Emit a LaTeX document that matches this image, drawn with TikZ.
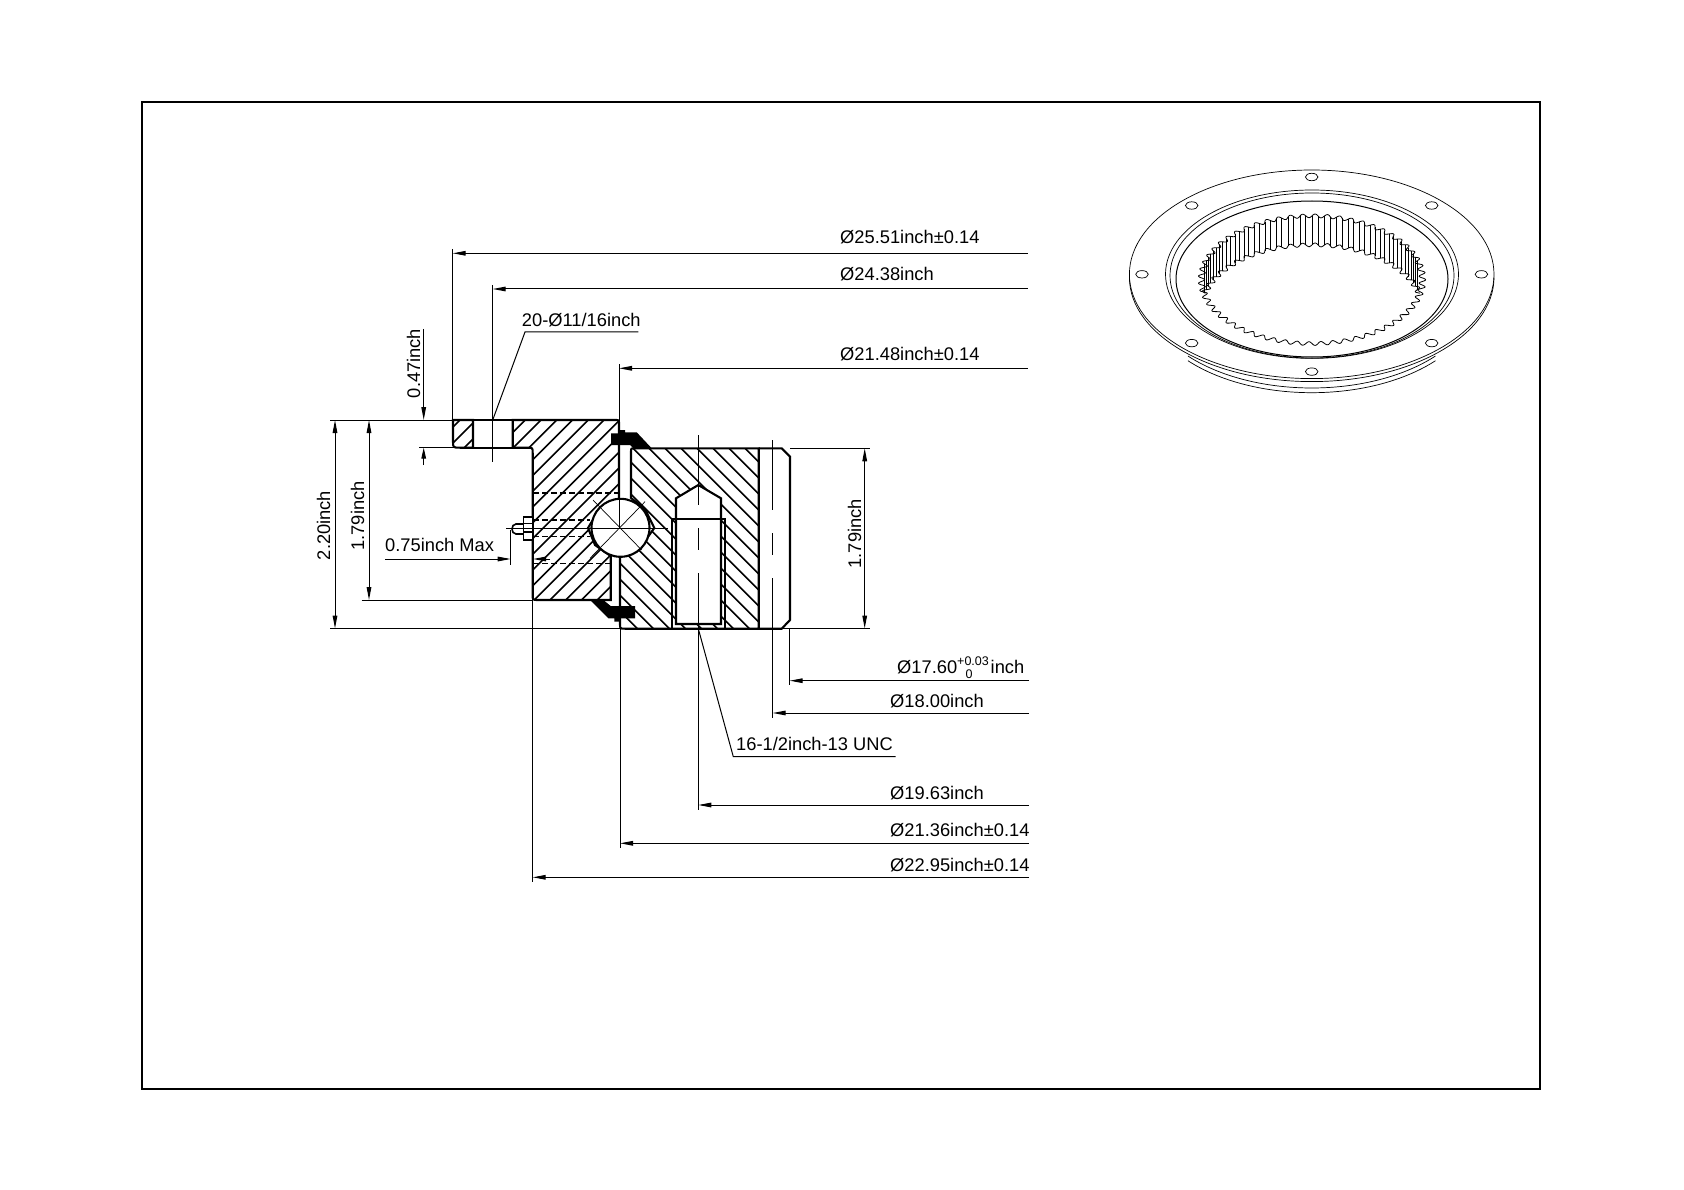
\documentclass[tikz,border=0pt]{standalone}
\usepackage{fontspec}
\setmainfont{Liberation Sans}
\usetikzlibrary{arrows.meta}
\tikzset{
  thin line/.style={line width=1pt,black},
  thick line/.style={line width=2.1pt,black},
  hatchline/.style={line width=1.6pt,black},
  dimarrow/.style={thin line,-{Triangle[length=13pt,width=4.6pt]}},
  dimboth/.style={thin line,{Triangle[length=13pt,width=4.6pt]}-{Triangle[length=13pt,width=4.6pt]}},
  label/.style={inner sep=0pt,anchor=base west,font=\fontsize{18.3}{20}\selectfont},
  vlabel/.style={inner sep=0pt,anchor=base,rotate=90,font=\fontsize{18.3}{20}\selectfont},
  centre line/.style={line width=1pt,black,dash pattern=on 70pt off 23pt on 22pt off 23pt},
  hidden/.style={line width=1.3pt,black,dash pattern=on 6pt off 3pt},
  iso/.style={line width=0.7pt,black},
}
\def\outerA{(512.7,420)--(615,420)..controls(619,420)..(619,424)--(619,499)--(597,513)--(588,528)--(595,545)--(610.7,556)--(610.7,600)--(538,600)..controls(532.7,600)..(532.7,595)--(532.7,453)..controls(532.7,447.7)..(527,447.7)--(512.7,447.7)--cycle}
\def\outerB{(473,420)--(453,420)--(453,441)..controls(453,447.7)..(460,447.7)--(473,447.7)--cycle}
\def\innerR{(635,448.3)--(758.7,448.3)--(758.7,628.7)--(625,628.7)..controls(620,628.7)..(620,624)--(620,556)--(640,548)--(654.3,528)--(645,509)--(631,498)--(631,452)..controls(631,448.3)..(635,448.3)--cycle}
\begin{document}
\begin{tikzpicture}[x=1pt,y=-1pt]
\useasboundingbox (0,0) rectangle (1684,1190);
\fill[white] (0,0) rectangle (1684,1190);
\draw[line width=2pt] (141.5,102) rectangle (1540,1089);

% hatching
\begin{scope}
  \clip \outerA;
  \foreach \k in {-6,...,17}{
    \pgfmathsetmacro\c{961+15.75*\k}
    \draw[hatchline] (\c-400,400)--(\c-620,620);
  }
\end{scope}
\begin{scope}
  \clip \outerB;
  \foreach \c in {880,896,912}{
    \draw[hatchline] (\c-400,400)--(\c-470,470);
  }
\end{scope}
\begin{scope}
  \clip \innerR;
  \foreach \k in {-15,...,6}{
    \pgfmathsetmacro\c{216.7+16*\k}
    \draw[hatchline] (\c+440,440)--(\c+640,640);
  }
\end{scope}

% drilled hole
\fill[white] (676,498.3)--(698.3,485)--(721,498.3)--(721,624)--(676,624)--cycle;

% outlines
\draw[thick line] \outerA;
\draw[thick line] \outerB;
\draw[thick line] (473,447.7)--(512.7,447.7);
\draw[thick line] (473,420)--(512.7,420);
\draw[thick line] \innerR;
\draw[thick line] (758.7,448.3)--(781.7,448.3)--(790,456.7)--(790,620)--(781.7,628.7)--(758.7,628.7);
\draw[thick line] (676,498.3)--(698.3,485)--(721,498.3)--(721,624)--(676,624)--cycle;
\draw[thick line] (672.3,628.7)--(672.3,519)--(725,519)--(725,628.7);

% seals
\fill[black] (611,433.3)--(618.3,433.3)--(619.3,430)--(625,430)--(625,432.3)--(636.7,432.3)--(651.7,448.3)--(633.3,448.3)--(630,445)--(611,445)--cycle;
\fill[black] (590,600)--(603.3,600)--(610.7,606)--(635,606)--(635,618.3)--(620,618.3)--(619.3,621.7)--(614.3,621.7)--(614.3,618.3)--(608.3,618.3)--cycle;

% ball
\coordinate (ballc) at (620.5,527.8);
\draw[thick line,fill=white] (ballc) circle[radius=29pt];
\draw[line width=0.7pt] (593,500)--(641.6,550);
\draw[line width=0.7pt] (645,501.7)--(590,558.3);

% hidden lines
\draw[hidden] (533,493)--(619,493);
\draw[hidden] (533,520)--(590,520);
\draw[hidden] (533,536.3)--(590,536.3);
\draw[hidden] (533,563.3)--(610,563.3);

% nipple
\draw[line width=1.6pt,fill=white] (523.3,516.7) rectangle (532.7,540);
\draw[line width=1.3pt] (523.3,523.3)--(532.7,523.3) (523.3,532)--(532.7,532);
\draw[line width=1.6pt] (523.3,524)--(516,524)..controls(510.7,524)and(510.7,534)..(516,534)--(523.3,534);

% centre lines
\coordinate (cbL) at (506,528.3);
\coordinate (cbR) at (668,528.3);
\draw[thin line] (cbL)--(cbR);
\coordinate (holeT) at (698.3,435);
\coordinate (holeB) at (698.3,628.7);
\draw[centre line] (holeT)--(holeB);
\coordinate (boreT) at (772.7,440);
\coordinate (boreB) at (772.7,628.7);
\draw[centre line] (boreT)--(boreB);

% extension lines
\coordinate (eTopL) at (330,420);   \coordinate (eTopR) at (453,420);
\coordinate (eMidL) at (361.7,600); \coordinate (eMidR) at (533,600);
\coordinate (eBotL) at (330,628.5); \coordinate (eBotR) at (870,628.5);
\coordinate (eRTL) at (790,448.3);  \coordinate (eRTR) at (870,448.3);
\coordinate (eFl) at (419,447.7);   \coordinate (eFr) at (453,447.7);
\draw[thin line] (eTopL)--(eTopR);
\draw[thin line] (eMidL)--(eMidR);
\draw[thin line] (eBotL)--(eBotR);
\draw[thin line] (eRTL)--(eRTR);
\draw[thin line] (eFl)--(eFr);

% top diameters
\coordinate (a1s) at (1027.7,253.3); \coordinate (a1e) at (452.7,253.3); \coordinate (a1t) at (452.7,249); \coordinate (a1b) at (452.7,420);
\coordinate (a2s) at (1027.7,289);   \coordinate (a2e) at (492.7,289);   \coordinate (a2t) at (492.7,285); \coordinate (a2b) at (492.7,461.7);
\coordinate (a3s) at (1027.7,368.3); \coordinate (a3e) at (619,368.3);   \coordinate (a3t) at (619,364);   \coordinate (a3b) at (619,528);
\draw[dimarrow] (a1s)--(a1e); \draw[thin line] (a1t)--(a1b);
\draw[dimarrow] (a2s)--(a2e); \draw[thin line] (a2t)--(a2b);
\draw[dimarrow] (a3s)--(a3e); \draw[thin line] (a3t)--(a3b);
\node[label] (t1) at (840,244) {Ø25.51inch±0.14};
\node[label] (t2) at (840,280.5) {Ø24.38inch};
\node[label] (t3) at (840,360) {Ø21.48inch±0.14};

% 20 holes leader
\coordinate (l1a) at (492.7,420); \coordinate (l1b) at (525,332); \coordinate (l1c) at (638.3,332);
\draw[thin line] (l1a)--(l1b)--(l1c);
\node[label] (t4) at (521.7,326.5) {20-Ø11/16inch};

% 0.47
\coordinate (q1) at (423.7,329); \coordinate (q2) at (423.7,420); \coordinate (q3) at (423.7,465); \coordinate (q4) at (423.7,447.7);
\draw[dimarrow] (q1)--(q2);
\draw[thin line,-{Triangle[length=11pt,width=4.6pt]}] (q3)--(q4);
\node[vlabel] (t5) at (420,363.5) {0.47inch};

% 2.20, 1.79 left
\coordinate (r1) at (335,420); \coordinate (r2) at (335,628.5);
\draw[dimboth] (r1)--(r2);
\node[vlabel] (t6) at (330,525.5) {2.20inch};
\coordinate (r3) at (369,420); \coordinate (r4) at (369,600);
\draw[dimboth] (r3)--(r4);
\node[vlabel] (t7) at (364,516) {1.79inch};

% 0.75
\coordinate (v1) at (385,559); \coordinate (v2) at (510.7,559); \coordinate (v3) at (550,559); \coordinate (v4) at (533,559);
\coordinate (v5) at (510.7,530); \coordinate (v6) at (510.7,565);
\draw[dimarrow] (v1)--(v2);
\draw[thin line,-{Triangle[length=13pt,width=4.6pt]}] (v3)--(v4);
\draw[thin line] (v5)--(v6);
\node[label] (t8) at (385,551.7) {0.75inch Max};

% 1.79 right
\coordinate (w1) at (864.7,448.3); \coordinate (w2) at (864.7,628.5);
\draw[dimboth] (w1)--(w2);
\node[vlabel] (t9) at (861,533.7) {1.79inch};

% bottom diameters
\coordinate (b1s) at (1029,680.7); \coordinate (b1e) at (789.7,680.7); \coordinate (b1t) at (789.7,628.7); \coordinate (b1b) at (789.7,685);
\coordinate (b2s) at (1029,713);   \coordinate (b2e) at (772.7,713);   \coordinate (b2t) at (772.7,628.7); \coordinate (b2b) at (772.7,718);
\coordinate (b3s) at (1029,805);   \coordinate (b3e) at (698.3,805);   \coordinate (b3t) at (698.3,628.7); \coordinate (b3b) at (698.3,810);
\coordinate (b4s) at (1029,843.3); \coordinate (b4e) at (620,843.3);   \coordinate (b4t) at (620,620);     \coordinate (b4b) at (620,848);
\coordinate (b5s) at (1029,877.3); \coordinate (b5e) at (532.7,877.3); \coordinate (b5t) at (532.7,595);   \coordinate (b5b) at (532.7,882);
\draw[dimarrow] (b1s)--(b1e); \draw[thin line] (b1t)--(b1b);
\draw[dimarrow] (b2s)--(b2e); \draw[thin line] (b2t)--(b2b);
\draw[dimarrow] (b3s)--(b3e); \draw[thin line] (b3t)--(b3b);
\draw[dimarrow] (b4s)--(b4e); \draw[thin line] (b4t)--(b4b);
\draw[dimarrow] (b5s)--(b5e); \draw[thin line] (b5t)--(b5b);
\node[label] (t10) at (897,673) {Ø17.60\rlap{\raisebox{8pt}{\fontsize{12.5}{12}\selectfont +0.03}}\rlap{\hspace{8.5pt}\raisebox{-5pt}{\fontsize{12.5}{12}\selectfont 0}}\hspace{33.5pt}inch};
\node[label] (t11) at (890,707) {Ø18.00inch};
\node[label] (t12) at (890,799) {Ø19.63inch};
\node[label] (t13) at (890,836.7) {Ø21.36inch±0.14};
\node[label] (t14) at (890,871) {Ø22.95inch±0.14};

% thread leader
\coordinate (c1) at (698.3,628.7); \coordinate (c2) at (733.3,756.7); \coordinate (c3) at (895.7,756.7);
\draw[thin line] (c1)--(c2)--(c3);
\node[label] (t15) at (736,750.7) {16-1/2inch-13 UNC};

% isometric view
\begin{scope}[iso]
  \coordinate (isoc) at (1311.7,274.3);
  \draw (isoc) ellipse[x radius=182.3pt,y radius=104.3pt];
  \draw (1129.4,277.3) arc[start angle=180,end angle=360,x radius=182.3pt,y radius=104.3pt];
  \foreach \yc in {298.3,293.6}{
    \draw (1311.7,\yc) ++(221.4:165pt and 94.4pt) arc[start angle=221.4,end angle=318.6,x radius=165pt,y radius=94.4pt];
  }
  \foreach \a in {0,45,...,315}{
    \draw (isoc) ++(\a:169.7pt and 97.3pt) ellipse[x radius=6.3pt,y radius=3.7pt];
  }
  \draw (1312,274.2) ellipse[x radius=146.5pt,y radius=84.2pt];
  \draw (1312,275.5) ellipse[x radius=142pt,y radius=82.5pt];
  \draw[line width=1pt] (1312,279) ellipse[x radius=136pt,y radius=78pt];
  % gear
  \draw[line width=0.8pt] plot[domain=0:360,samples=685]
    ({1312+(110.5+3.2*cos(57*mod(\x,6.31579)))*cos(\x)},{279.7+0.578*(110.5+3.2*cos(57*mod(\x,6.31579)))*sin(\x)});
  \draw[line width=0.8pt] plot[domain=-166:-14,samples=300]
    ({1312+(110.5+3.2*cos(57*mod(\x,6.31579)))*cos(\x)},{308.7+0.578*(110.5+3.2*cos(57*mod(\x,6.31579)))*sin(\x)});
  \foreach \k in {-26,...,-3}{
    \foreach \d in {-1.5,1.5}{
      \pgfmathsetmacro\th{\k*6.31579+\d}
      \pgfmathsetmacro\rr{110.5+3.2*cos(57*mod(\th,6.31579))}
      \pgfmathsetmacro\xa{1312+\rr*cos(\th)}
      \pgfmathsetmacro\ya{279.7+0.578*\rr*sin(\th)}
      \draw[line width=0.6pt] (\xa,\ya)--(\xa,\ya+29);
    }
  }
\end{scope}
\end{tikzpicture}
\end{document}
